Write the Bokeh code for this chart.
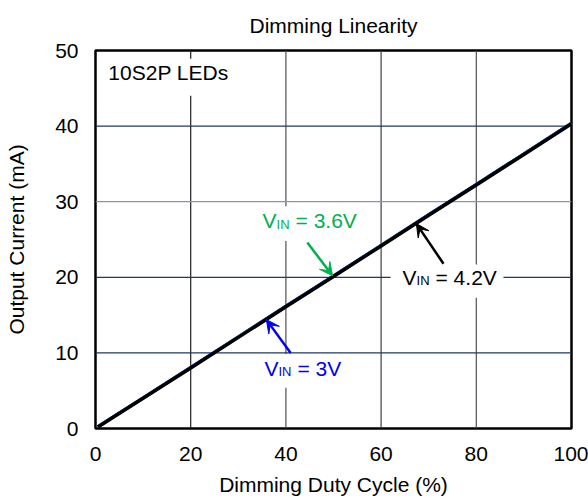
from bokeh.plotting import figure
from bokeh.models import Range1d, Span, Arrow, VeeHead, FixedTicker
from bokeh.embed import file_html
from bokeh.resources import INLINE
from bokeh.core.properties import value

# ---- data ----
duty = [0.5, 10, 20, 30, 40, 50, 60, 70, 80, 90, 100]
i_vin_3v0 = [0.25, 4.05, 8.1, 12.15, 16.2, 20.2, 24.25, 28.3, 32.3, 36.35, 40.4]
i_vin_3v6 = [0.22, 4.02, 8.05, 12.1, 16.15, 20.15, 24.2, 28.25, 32.25, 36.3, 40.35]
i_vin_4v2 = [0.2, 4.0, 8.0, 12.05, 16.1, 20.1, 24.15, 28.2, 32.2, 36.25, 40.3]
x_ticks = [0, 20, 40, 60, 80, 100]
y_ticks = [0, 10, 20, 30, 40, 50]
title_text = "Dimming Linearity"

FONT = "Liberation Sans"
FS = "21px"
SUB = "13px"
GREEN = "#00B050"
BLUE = "#0000F5"
BLACK = "#000000"

p = figure(width=588, height=499, x_range=Range1d(0, 100), y_range=Range1d(0, 50),
           output_backend="svg", toolbar_location=None, title=title_text,
           min_border_left=95, min_border_right=17, min_border_top=50, min_border_bottom=71)
p.background_fill_color = "white"
p.border_fill_color = "white"
p.outline_line_color = "black"
p.outline_line_width = 2.5

p.title.align = "center"
p.title.vertical_align = "top"
p.title.text_font = FONT
p.title.text_font_size = FS
p.title.text_font_style = "normal"
p.title.text_color = "black"
p.title.standoff = 23

p.xgrid.visible = False
p.ygrid.visible = False

for ax in (p.xaxis[0], p.yaxis[0]):
    ax.axis_line_color = None
    ax.major_tick_in = 0
    ax.major_tick_out = 0
    ax.minor_tick_in = 0
    ax.minor_tick_out = 0
    ax.major_label_text_font = FONT
    ax.major_label_text_font_size = FS
    ax.major_label_text_color = "black"
    ax.axis_label_text_font = FONT
    ax.axis_label_text_font_size = FS
    ax.axis_label_text_font_style = "normal"
    ax.axis_label_text_color = "black"

p.xaxis.ticker = FixedTicker(ticks=x_ticks)
p.yaxis.ticker = FixedTicker(ticks=y_ticks)
p.xaxis.axis_label = "Dimming Duty Cycle (%)"
p.yaxis.axis_label = "Output Current (mA)"
p.xaxis.major_label_standoff = 18
p.xaxis.axis_label_standoff = 9
p.yaxis.major_label_standoff = 17
p.yaxis.axis_label_standoff = 24

# grid lines
vcol = {20: "#202020", 40: "#505050", 60: "#404040", 80: "#505050"}
for t in x_ticks[1:-1]:
    p.add_layout(Span(location=t, dimension="height", line_color=vcol[t], line_width=1.2, level="underlay"))
hcol = {10: "#1F3864", 20: "#1F3864", 30: "#8497B0", 40: "#1F3864"}
for t in y_ticks[1:-1]:
    p.add_layout(Span(location=t, dimension="width", line_color=hcol[t], line_width=1.2, level="underlay"))

# white label backgrounds
box_l = [1.0, 32.6, 34.2, 62.0]
box_r = [29.4, 56.1, 52.7, 85.7]
box_t = [48.9, 29.4, 9.85, 21.7]
box_b = [44.0, 24.8, 5.4, 17.3]
p.quad(left=box_l, right=box_r, top=box_t, bottom=box_b, fill_color="white", line_color=None)

# data lines
p.line(duty, i_vin_3v0, line_color=BLUE, line_width=3)
p.line(duty, i_vin_3v6, line_color=GREEN, line_width=3)
p.line(duty, i_vin_4v2, line_color=BLACK, line_width=3.5)

# "10S2P LEDs"
p.text(x=[2.7], y=[47.1], text=["10S2P LEDs"], text_font=value(FONT), text_font_size=FS,
       text_color="black", text_baseline="alphabetic", text_align="left")

def vin_label(x, y, rest, color):
    p.text(x=[x], y=[y], text=["V"], text_font=value(FONT), text_font_size=FS,
           text_color=color, text_baseline="alphabetic", text_align="left")
    p.text(x=[x], y=[y - 0.45], text=["IN"], x_offset=14, text_font=value(FONT), text_font_size=SUB,
           text_color=color, text_baseline="alphabetic", text_align="left")
    p.text(x=[x], y=[y], text=[rest], x_offset=33, text_font=value(FONT), text_font_size=FS,
           text_color=color, text_baseline="alphabetic", text_align="left")

vin_label(35.1, 27.5, "= 3.6V", GREEN)
vin_label(35.5, 8.0, "= 3V", BLUE)
vin_label(64.5, 20.0, "= 4.2V", BLACK)

# arrows
p.add_layout(Arrow(x_start=44.5, y_start=24.6, x_end=49.8, y_end=20.2, line_color=GREEN, line_width=2.5,
                   end=VeeHead(size=13, fill_color=GREEN, line_color=GREEN)))
p.add_layout(Arrow(x_start=41.0, y_start=10.0, x_end=35.9, y_end=14.4, line_color=BLUE, line_width=2.5,
                   end=VeeHead(size=13, fill_color=BLUE, line_color=BLUE)))
p.add_layout(Arrow(x_start=73.1, y_start=21.8, x_end=67.4, y_end=27.1, line_color=BLACK, line_width=2.5,
                   end=VeeHead(size=13, fill_color=BLACK, line_color=BLACK)))

open("out.html", "w").write(file_html(p, INLINE))
